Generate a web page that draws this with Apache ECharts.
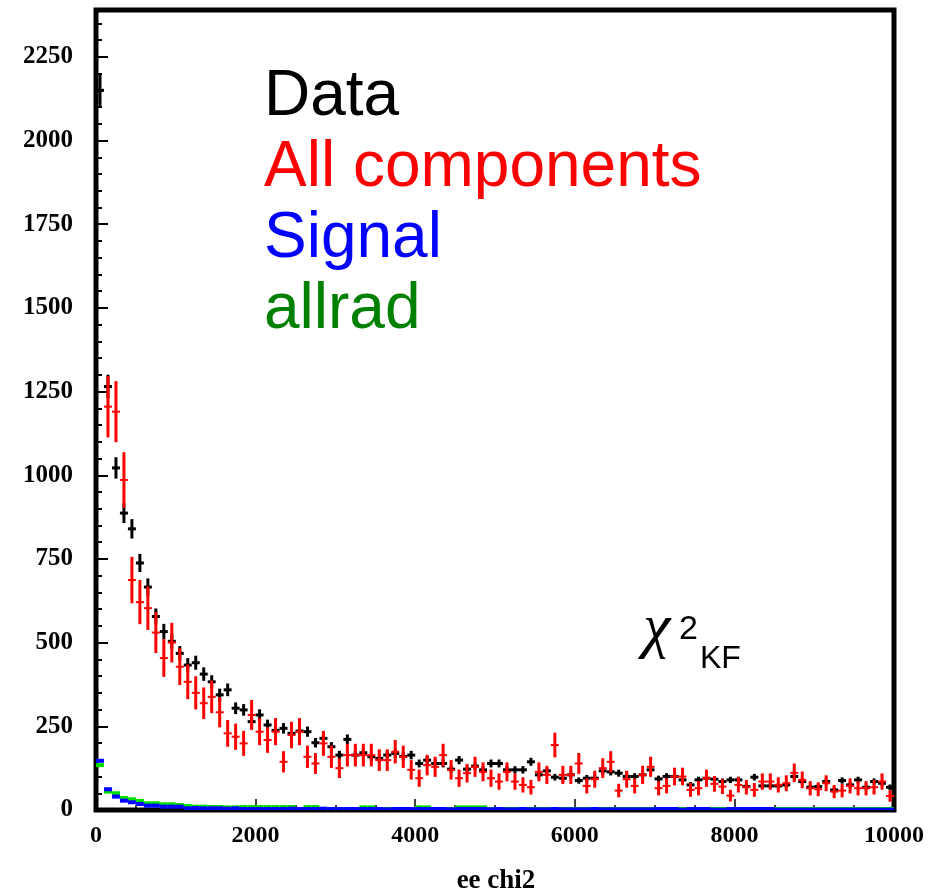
<!DOCTYPE html>
<html>
<head>
<meta charset="utf-8">
<script src="https://cdn.jsdelivr.net/npm/echarts@6/dist/echarts.min.js"></script>
<style>
html,body{margin:0;padding:0;background:#fff;}
#chart{width:944px;height:894px;}
</style>
</head>
<body>
<div id="chart"></div>
<script>
// ---- data (100 bins of width 100 over 0..10000) ----
const binWidth = 100;
const xMin = 0, xMax = 10000;
const yMin = 0, yMax = 2390;
const xTickStep = 2000, yTickStep = 250;

const dataCounts = [
  2150,1265,1022,887,840,738,666,578,533,504,
  468,433,440,406,383,344,359,304,299,264,
  284,254,238,244,229,236,234,201,214,189,
  164,211,164,171,159,154,164,169,160,164,
  139,149,139,139,122,149,122,131,120,139,
  139,120,120,120,144,105,117,98,95,105,
  88,95,95,117,114,110,100,100,105,120,
  93,100,100,90,75,90,95,92,85,90,
  90,70,98,72,72,72,75,100,85,68,
  70,85,60,88,75,90,68,85,80,68
];

const allComponents = [
  2540,1205,1190,986,687,621,603,530,454,500,
  428,383,350,319,338,292,229,219,199,284,
  234,209,234,144,224,234,159,139,199,159,
  125,164,164,164,164,149,149,174,159,120,
  95,134,129,164,120,95,110,129,114,95,
  85,114,85,75,68,114,105,194,105,105,
  139,72,92,125,144,58,92,72,105,129,
  65,72,100,100,60,65,95,78,70,43,
  75,68,60,85,85,75,80,111,90,65,
  62,80,55,58,72,65,65,68,85,42
];
const mcWeight = 7; // MC weight used for the error bars of "All components"

const signal = [
  147,62,40,28,23,18,13,13,10,10,
  10,5,6,5,5,5,4,5,3,3,
  3,3,3,3,4,3,3,3,4,3,
  3,3,3,3,3,3,2,3,3,3,
  3,3,3,3,2,3,3,3,3,2,
  3,2,2,3,2,2,2,3,2,2,
  2,2,3,2,2,2,2,2,2,2,
  3,3,3,1,3,3,3,1,1,3,
  3,3,3,3,3,1,1,1,1,1,
  1,1,1,1,1,1,1,1,1,1
];

const allrad = [
  134,55,50,36,32,27,20,20,17,17,
  15,12,10,10,9,9,8,8,9,9,
  9,9,9,9,9,3,9,9,3,3,
  3,3,3,8,8,3,3,3,3,3,
  8,8,3,3,3,8,8,8,8,3,
  3,3,3,3,3,3,3,3,3,3,
  3,3,3,3,3,3,3,3,3,3,
  2,2,2,3,2,2,2,3,3,2,
  2,2,2,2,2,3,3,3,3,3,
  3,3,3,3,3,3,3,3,3,3
];

const legendItems = ['Data', 'All components', 'Signal', 'allrad'];
const legendColors = ['#000000', '#ff0000', '#0000ff', '#008000'];
const xTitle = 'ee chi2';

// ---- build series data ----
function centers(i){ return xMin + binWidth * (i + 0.5); }
const dataPts = dataCounts.map((v,i)=>[centers(i), v, Math.sqrt(v)]);
const mcPts = allComponents.map((v,i)=>[centers(i), v, Math.sqrt(v*mcWeight)]);
const sigPts = signal.map((v,i)=>[centers(i), v]);
const radPts = allrad.map((v,i)=>[centers(i), v]);

function errRender(color, vWidth, hWidth){
  return function(params, api){
    const x = api.value(0), y = api.value(1), e = api.value(2);
    const c = api.coord([x, y]);
    const t = api.coord([x, y + e]);
    const b = api.coord([x, y - e]);
    const l = api.coord([x - binWidth/2, y]);
    const r = api.coord([x + binWidth/2, y]);
    return {
      type:'group',
      children:[
        {type:'line', shape:{x1:c[0], y1:t[1], x2:c[0], y2:b[1]}, style:{stroke:color, lineWidth:vWidth}},
        {type:'line', shape:{x1:l[0], y1:c[1], x2:r[0], y2:c[1]}, style:{stroke:color, lineWidth:hWidth}}
      ]
    };
  };
}
function markRender(color){
  return function(params, api){
    const x = api.value(0), y = api.value(1);
    const c = api.coord([x, y]);
    const l = api.coord([x - binWidth/2, y]);
    const r = api.coord([x + binWidth/2, y]);
    return {
      type:'group',
      children:[
        {type:'rect', shape:{x:l[0], y:c[1]-2, width:r[0]-l[0], height:4}, style:{fill:color}}
      ]
    };
  };
}

const chart = echarts.init(document.getElementById('chart'), null, {renderer:'canvas'});
const serif = "'Liberation Serif','Times New Roman',serif";
const sans = "'Liberation Sans',Arial,sans-serif";

const option = {
  animation:false,
  backgroundColor:'#ffffff',
  grid:{left:96, right:50, top:10, bottom:84, show:true, borderColor:'#000', borderWidth:5, backgroundColor:'transparent'},
  xAxis:{
    type:'value', min:xMin, max:xMax, interval:xTickStep,
    axisLine:{show:false},
    axisTick:{show:true, inside:true, length:11, lineStyle:{color:'#000', width:1.5}},
    minorTick:{show:true, splitNumber:4, length:5, lineStyle:{color:'#000', width:1.5}},
    splitLine:{show:false},
    axisLabel:{fontFamily:serif, fontWeight:'bold', fontSize:24, color:'#000', margin:14,
      formatter:function(v){ return String(v); }}
  },
  yAxis:{
    type:'value', min:yMin, max:yMax, interval:yTickStep,
    axisLine:{show:false},
    axisTick:{show:true, inside:true, length:12, lineStyle:{color:'#000', width:2}},
    minorTick:{show:true, splitNumber:5, length:6, lineStyle:{color:'#000', width:2}},
    splitLine:{show:false},
    axisLabel:{fontFamily:serif, fontWeight:'bold', fontSize:25, color:'#000', margin:23,
      formatter:function(v){ return (v % yTickStep === 0) ? String(v) : ''; }}
  },
  series:[
    {type:'custom', name:'allrad', renderItem:markRender('#00e000'), data:radPts, clip:true, z:2},
    {type:'custom', name:'Signal', renderItem:markRender('#0000ff'), data:sigPts, clip:true, z:3},
    {type:'custom', name:'Data', renderItem:errRender('#000000', 3, 3), data:dataPts, clip:true, z:4},
    {type:'custom', name:'All components', renderItem:errRender('#ff0000', 3, 2), data:mcPts, clip:true, z:5}
  ],
  graphic:[
    {type:'text', left:264, top:65, style:{text:legendItems[0], fill:legendColors[0], font:'64px '+sans}},
    {type:'text', left:264, top:136, style:{text:legendItems[1], fill:legendColors[1], font:'64px '+sans}},
    {type:'text', left:264, top:207, style:{text:legendItems[2], fill:legendColors[2], font:'64px '+sans}},
    {type:'text', left:264, top:278, style:{text:legendItems[3], fill:legendColors[3], font:'64px '+sans}},
    {type:'text', left:643, top:599, style:{text:'χ', fill:'#000', font:'italic 62px '+serif}},
    {type:'text', left:679, top:613, style:{text:'2', fill:'#000', font:'34px '+sans}},
    {type:'text', left:700, top:643, style:{text:'KF', fill:'#000', font:'32px '+sans}},
    {type:'text', x:496, y:881, style:{text:xTitle, fill:'#000', font:'bold 27px '+serif, textAlign:'center', textVerticalAlign:'middle'}}
  ]
};
chart.setOption(option);
</script>
</body>
</html>
